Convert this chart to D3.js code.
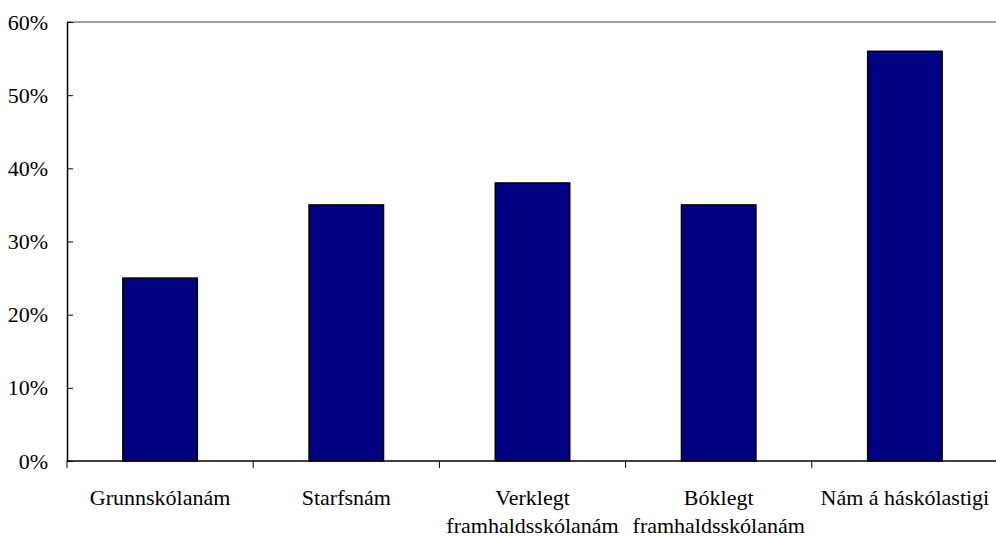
<!DOCTYPE html>
<html>
<head>
<meta charset="utf-8">
<script src="https://cdn.jsdelivr.net/npm/d3@7"></script>
<style>
  html, body { margin: 0; padding: 0; background: #ffffff; }
  svg { display: block; }
  text { font-family: "Liberation Serif", "Times New Roman", serif; fill: #000; }
</style>
</head>
<body>
<svg id="chart" width="996" height="538"></svg>
<script>
// Share by education level
const categories = [
  ["Grunnskólanám"],
  ["Starfsnám"],
  ["Verklegt", "framhaldsskólanám"],
  ["Bóklegt", "framhaldsskólanám"],
  ["Nám á háskólastigi"]
];
const values = [0.25, 0.35, 0.38, 0.35, 0.56];
const yTicks = [0, 0.1, 0.2, 0.3, 0.4, 0.5, 0.6];

const width = 996, height = 538;
const margin = { top: 22, right: -2, bottom: 77, left: 67 };
const svg = d3.select("#chart");

const x = d3.scaleBand()
  .domain(d3.range(categories.length))
  .range([margin.left, width - margin.right])
  .paddingInner(0.6)
  .paddingOuter(0.3);

const y = d3.scaleLinear()
  .domain([0, 0.6])
  .range([height - margin.bottom, margin.top]);

// top border of the plot area
svg.append("line")
  .attr("x1", margin.left).attr("x2", width)
  .attr("y1", y(0.6)).attr("y2", y(0.6))
  .attr("stroke", "#808080").attr("stroke-width", 1.5);

// bars
svg.append("g")
  .selectAll("rect")
  .data(values)
  .join("rect")
  .attr("x", (d, i) => x(i))
  .attr("y", d => y(d))
  .attr("width", x.bandwidth())
  .attr("height", d => y(0) - y(d))
  .attr("fill", "#000080")
  .attr("stroke", "#000")
  .attr("stroke-width", 1.5);

// y axis
const yAxis = d3.axisLeft(y)
  .tickValues(yTicks)
  .tickFormat(d3.format(".0%"))
  .tickSizeInner(-6)
  .tickSizeOuter(0)
  .tickPadding(19);

const gy = svg.append("g")
  .attr("transform", `translate(${margin.left},0)`)
  .call(yAxis);
gy.select(".domain").attr("stroke", "#000").attr("stroke-width", 1.5);
gy.selectAll(".tick line").attr("stroke", "#000").attr("stroke-width", 1);
gy.selectAll(".tick text")
  .attr("font-size", 22)
  .attr("font-family", "Liberation Serif, Times New Roman, serif");

// x axis: ticks on category boundaries
const step = x.step();
const boundaries = d3.range(categories.length).map(i => x(i) - x.paddingOuter() * step);
const gx = svg.append("g");
gx.append("line")
  .attr("x1", margin.left).attr("x2", width)
  .attr("y1", y(0)).attr("y2", y(0))
  .attr("stroke", "#000").attr("stroke-width", 1.5);
gx.selectAll("line.tick")
  .data(boundaries)
  .join("line")
  .attr("class", "tick")
  .attr("x1", d => d).attr("x2", d => d)
  .attr("y1", y(0)).attr("y2", y(0) + 7)
  .attr("stroke", "#000").attr("stroke-width", 1);

// category labels
const labels = gx.selectAll("text.cat")
  .data(categories)
  .join("text")
  .attr("class", "cat")
  .attr("text-anchor", "middle")
  .attr("font-size", 22)
  .attr("transform", (d, i) => `translate(${x(i) + x.bandwidth() / 2},${y(0) + 44})`);
labels.selectAll("tspan")
  .data(d => d)
  .join("tspan")
  .attr("x", 0)
  .attr("dy", (d, j) => j === 0 ? 0 : 28)
  .text(d => d);
</script>
</body>
</html>
